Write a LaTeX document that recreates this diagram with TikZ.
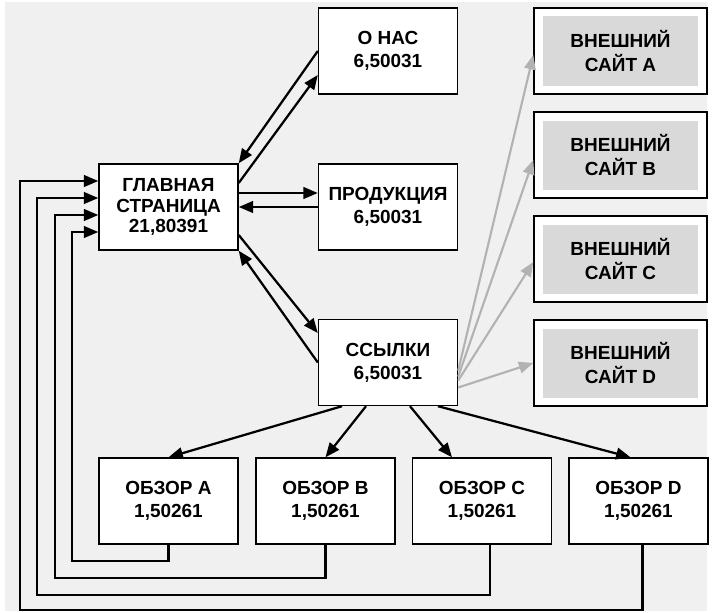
\documentclass[tikz,border=0pt]{standalone}
\usepackage{fontspec}
\setmainfont{Liberation Sans}
\usetikzlibrary{arrows.meta}

\begin{document}
\begin{tikzpicture}[
          font=\fontsize{13.5}{16.4}\selectfont\bfseries,
          pagenode/.style={rectangle, draw=black, fill=white, line width=1pt, minimum width=3.475cm, minimum height=2.15cm, align=center, inner sep=0pt},
          extnode/.style={rectangle, draw=black, fill=white, line width=1pt, minimum width=4.325cm, minimum height=2.15cm, inner sep=0pt},
          extinner/.style={rectangle, fill=black!15, minimum width=3.875cm, minimum height=1.725cm, align=center, inner sep=0pt},
          link/.style={-{Triangle[length=0.36cm, width=0.29cm]}, line width=1.6pt, black},
          extlink/.style={-{Triangle[length=0.36cm, width=0.29cm]}, line width=1.5pt, black!30}
        ]

        % ----------------------------------------------------
        % NỀN
        % ----------------------------------------------------
        \useasboundingbox (0, 0) rectangle (17.85, -15.3);
        \fill[black!6] (0.125, -0.05) rectangle (17.675, -15.275);

        % ----------------------------------------------------
        % TRANG CỦA SITE
        % ----------------------------------------------------
        \node (main) at (4.2125, -5.175) [pagenode, font=\fontsize{13.5}{14.8}\selectfont\bfseries] {ГЛАВНАЯ\\СТРАНИЦА\\21,80391};
        \node (about) at (9.7, -1.275) [pagenode] {О НАС\\6,50031};
        \node (prod) at (9.7, -5.175) [pagenode] {ПРОДУКЦИЯ\\6,50031};
        \node (links) at (9.7, -9.0625) [pagenode] {ССЫЛКИ\\6,50031};

        \node (revA) at (4.2125, -12.525) [pagenode] {ОБЗОР A\\1,50261};
        \node (revB) at (8.1375, -12.525) [pagenode] {ОБЗОР B\\1,50261};
        \node (revC) at (12.05, -12.525) [pagenode] {ОБЗОР C\\1,50261};
        \node (revD) at (15.9625, -12.525) [pagenode] {ОБЗОР D\\1,50261};

        % ----------------------------------------------------
        % SITE NGOÀI
        % ----------------------------------------------------
        \node (extA) at (15.5125, -1.275) [extnode] {};
        \node (extAin) at (extA) [extinner] {ВНЕШНИЙ\\САЙТ A};
        \node (extB) at (15.5125, -3.875) [extnode] {};
        \node (extBin) at (extB) [extinner] {ВНЕШНИЙ\\САЙТ B};
        \node (extC) at (15.5125, -6.475) [extnode] {};
        \node (extCin) at (extC) [extinner] {ВНЕШНИЙ\\САЙТ C};
        \node (extD) at (15.5125, -9.075) [extnode] {};
        \node (extDin) at (extD) [extinner] {ВНЕШНИЙ\\САЙТ D};

        % ----------------------------------------------------
        % MŨI TÊN KẾT NỐI
        % ----------------------------------------------------
        \draw[link] (about.west) -- (main.north east);
        \draw[link] ([yshift=0.6cm]main.east) -- ([yshift=-0.6cm]about.west);
        \draw[link] ([yshift=0.35cm]main.east) -- ([yshift=0.35cm]prod.west);
        \draw[link] (prod.west) -- (main.east);
        \draw[link] ([yshift=-0.7cm]main.east) -- ([yshift=0.7375cm]links.west);
        \draw[link] (links.west) -- (main.south east);

        \draw[link] ([xshift=-1.15cm]links.south) -- (revA.north);
        \draw[link] ([xshift=-0.55cm]links.south) -- (revB.north);
        \draw[link] ([xshift=0.55cm]links.south) -- ([xshift=-0.75cm]revC.north);
        \draw[link] ([xshift=1.25cm]links.south) -- ([xshift=-0.2cm]revD.north);

        \draw[extlink] ([yshift=-0.2cm]links.east) -- ([yshift=-0.1cm]extA.west);
        \draw[extlink] ([yshift=-0.35cm]links.east) -- ([yshift=-0.125cm]extB.west);
        \draw[extlink] ([yshift=-0.45cm]links.east) -- ([yshift=-0.075cm]extC.west);
        \draw[extlink] ([yshift=-0.625cm]links.east) -- (extD.west);

        % quay về trang chính
        \draw[link] (revA.south) |- (1.8, -14.025) |- ([yshift=-0.625cm]main.west);
        \draw[link] (revB.south) |- (1.375, -14.45) |- ([yshift=-0.2cm]main.west);
        \draw[link] ([xshift=0.2cm]revC.south) |- (0.925, -14.875) |- ([yshift=0.225cm]main.west);
        \draw[link] ([xshift=0.1cm]revD.south) |- (0.5, -15.25) |- ([yshift=0.65cm]main.west);
      \end{tikzpicture}
\end{document}
